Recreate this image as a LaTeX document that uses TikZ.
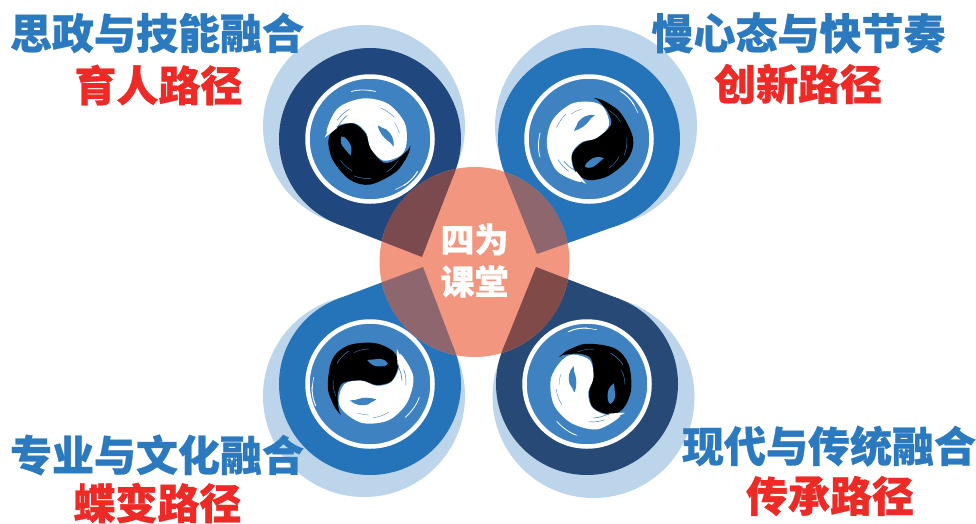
\documentclass[tikz,border=0pt]{standalone}
\usepackage{fontspec}
\setmainfont{Noto Sans CJK SC}
\newfontfamily\heavyfont{Noto Sans CJK SC}[BoldFeatures={FakeBold=0.7}]
\usetikzlibrary{calc}
\definecolor{lightblue}{HTML}{BDD5EB}
\definecolor{ringblue}{HTML}{3F82C2}
\definecolor{navyA}{HTML}{21477F}
\definecolor{midblue}{HTML}{2573B8}
\definecolor{navyB}{HTML}{264A75}
\definecolor{salmon}{HTML}{F29680}
\definecolor{ovA}{HTML}{7B4A4E}
\definecolor{ovB}{HTML}{8D666E}
\definecolor{ovC}{HTML}{804A48}
\definecolor{headblue}{HTML}{2B79BF}
\definecolor{headred}{HTML}{EE2A27}
\tikzset{
  headline/.style={font=\heavyfont\bfseries\fontsize{42}{42}\selectfont,text=headblue,inner sep=0pt},
  pathline/.style={font=\heavyfont\bfseries\fontsize{42}{42}\selectfont,text=headred,inner sep=0pt},
  brush/.style={line cap=round,fill=none},
  yinyang/.pic={
    % white lobe
    \fill[white] plot[smooth cycle,tension=.55] coordinates{(-41,-9)(-30,-33)(-5,-43)(20,-38)(37,-19)(39,2)(33,14)(16,19)(3,7)(-1,-8)(-12,-18)(-27,-17)};
    % black lobe
    \fill[black] plot[smooth cycle,tension=.55] coordinates{(41,9)(30,29)(3,43)(-18,38)(-35,18)(-39,-2)(-31,-14)(-14,-18)(-2,-8)(3,7)(16,21)(29,18)};
    % tapering brush tails
    \fill[white] (-36,-16) .. controls (-38,-12) and (-41,-8) .. (-43,-4) .. controls (-40,-6) and (-36,-9) .. (-30,-14) -- cycle;
    \fill[black] (36,14) .. controls (38,11) and (41,9) .. (43,4) .. controls (42,12) and (38,20) .. (32,24) -- cycle;
    % blue flecks in white
    \fill[ringblue] (10,-16) .. controls (14,-15) and (16,-12) .. (19,-12) .. controls (24,-8) and (27,-2) .. (26,5) .. controls (23,2) and (23,0) .. (20,-1) .. controls (16,-4) and (12,-9) .. cycle;
    \foreach \r/\a/\b/\w in {37/215/240/.5,33/208/232/.6,36/292/318/.4,33/325/345/.3}{
      \draw[ringblue,line width=\w pt,line cap=round] (\a:\r) arc[start angle=\a,end angle=\b,radius=\r];}
    % blue flecks in black
    \fill[ringblue] (-26,-5) .. controls (-22,-5) and (-21,-2) .. (-19,0) .. controls (-16,4) and (-15,8) .. (-17,14) .. controls (-20,11) and (-21,9) .. (-23,7) .. controls (-26,4) and (-28,0) .. cycle;
    \foreach \r/\a/\b/\w in {37/85/112/.5,33/118/145/.4,36/32/58/.4}{
      \draw[ringblue,line width=\w pt,line cap=round] (\a:\r) arc[start angle=\a,end angle=\b,radius=\r];}
    % frayed marks on the disc
    \draw[brush,white,line width=.8pt] (-16,-50) .. controls (-10,-52) and (0,-52) .. (8,-50);
    \draw[brush,white,line width=1pt] (36,44) .. controls (40,42) and (46,37) .. (50,30);
    \draw[brush,white,line width=.6pt] (28,48) -- (38,43);
  }
}
\newcommand{\pinfill}[4]{% colour, circle centre, tip, tangent node
  \fill[#1] (#2) circle[radius=91];
  \fill[#1] (#3) -- (tangent cs:node=#4,point={(#3)},solution=1) -- (tangent cs:node=#4,point={(#3)},solution=2) -- cycle;}
\begin{document}
\begin{tikzpicture}[x=1pt,y=-1pt]
\useasboundingbox (0,0) rectangle (976,523);
\fill[white] (0,0) rectangle (976,523);
% centres
\coordinate (cTL) at (370,139);
\coordinate (cTR) at (589,139);
\coordinate (cBL) at (370,384);
\coordinate (cBR) at (587,384);
\coordinate (tTL) at (422,257);
\coordinate (tTR) at (537,254);
\coordinate (tBL) at (423,267);
\coordinate (tBR) at (536,267);
\foreach \n in {TL,TR,BL,BR}{\node[circle,minimum size=182pt,inner sep=0pt,outer sep=0pt] (n\n) at (c\n) {};}
% halos
\fill[lightblue] (364,126) circle[radius=101];
\fill[lightblue] (596,126) circle[radius=101];
\fill[lightblue] (364,396) circle[radius=101];
\fill[lightblue] (593.5,397) circle[radius=101];
% pins
\pinfill{navyA}{cTL}{tTL}{nTL}
\pinfill{midblue}{cTR}{tTR}{nTR}
\pinfill{midblue}{cBL}{tBL}{nBL}
\pinfill{navyB}{cBR}{tBR}{nBR}
% rings
\foreach \n in {TL,TR,BL,BR}{\fill[ringblue,draw=white,line width=4.5pt] (c\n) circle[radius=62.5];}
% yin yang
\pic at (367.5,141.5) {yinyang};
\pic[rotate=90] at (590,141) {yinyang};
\pic[rotate=145] at (592,385) {yinyang};
\pic[rotate=-125] at (369,382) {yinyang};
% centre disc
\fill[salmon] (474.5,262) circle[radius=95];
\begin{scope}
\clip (474.5,262) circle[radius=95];
\pinfill{ovA}{cTL}{tTL}{nTL}
\pinfill{ovB}{cTR}{tTR}{nTR}
\pinfill{ovB}{cBL}{tBL}{nBL}
\pinfill{ovC}{cBR}{tBR}{nBR}
\end{scope}
\node[font=\heavyfont\bfseries\fontsize{34}{42}\selectfont,text=white,align=center,inner sep=0pt] (hub) at (474.5,260.5) {四为\\课堂};
% headings
\node[headline] (h1) at (157,33) {思政与技能融合};
\node[pathline] (p1) at (158.5,85) {育人路径};
\node[headline] (h2) at (798.5,33) {慢心态与快节奏};
\node[pathline] (p2) at (798,84) {创新路径};
\node[headline] (h3) at (157,455) {专业与文化融合};
\node[pathline] (p3) at (157.5,503) {蝶变路径};
\node[headline] (h4) at (829,446) {现代与传统融合};
\node[pathline] (p4) at (830,496) {传承路径};
\end{tikzpicture}
\end{document}
